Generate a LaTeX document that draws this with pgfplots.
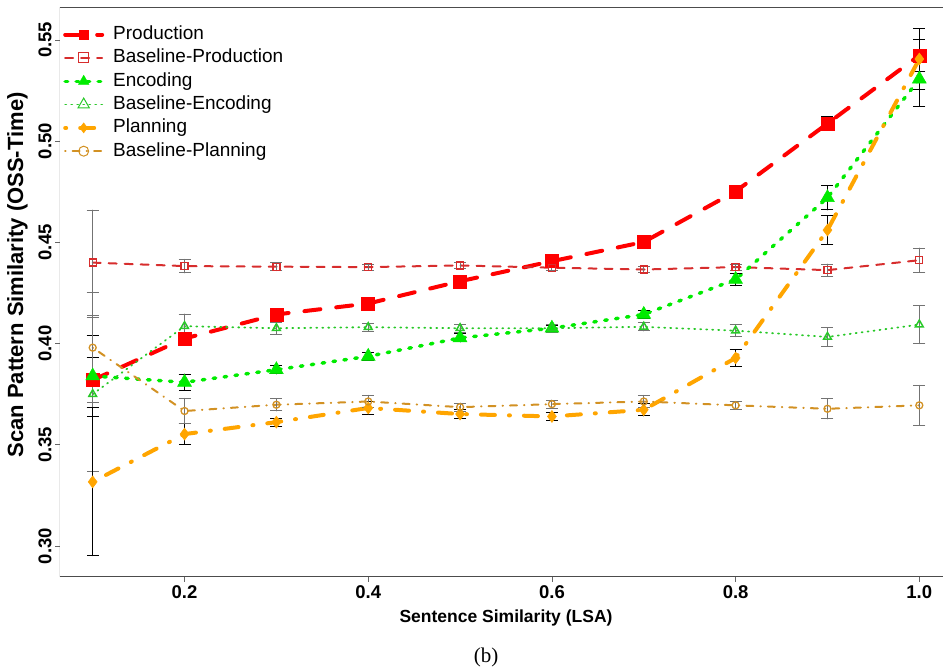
\documentclass[border=0pt]{standalone}
\usepackage{fontspec}
\setmainfont{Liberation Sans}
\newfontfamily\capfont{Liberation Serif}
\usepackage{pgfplots}
\pgfplotsset{compat=1.18}
\usepackage{pgfplotstable}

\definecolor{cprod}{RGB}{255,0,0}
\definecolor{cbprod}{RGB}{215,45,45}
\definecolor{cenc}{RGB}{0,235,0}
\definecolor{cbenc}{RGB}{40,200,40}
\definecolor{cplan}{RGB}{255,165,0}
\definecolor{cbplan}{RGB}{210,145,35}

\pgfplotstableread{
x y e
0.1 0.3820 0.011
0.2 0.4025 0.003
0.3 0.4144 0.002
0.4 0.4198 0.002
0.5 0.4308 0.002
0.6 0.4407 0.002
0.7 0.4502 0.002
0.8 0.4752 0.002
0.9 0.5087 0.0034
1.0 0.5424 0.008
}\tprod
\pgfplotstableread{
x y e
0.1 0.4400 0.026
0.2 0.4383 0.0033
0.3 0.4380 0.002
0.4 0.4378 0.0015
0.5 0.4386 0.0015
0.6 0.4375 0.0015
0.7 0.4366 0.0015
0.8 0.4378 0.0015
0.9 0.4363 0.003
1.0 0.4412 0.006
}\tbprod
\pgfplotstableread{
x y e
0.1 0.3840 0.020
0.2 0.3809 0.004
0.3 0.3871 0.002
0.4 0.3937 0.002
0.5 0.4028 0.002
0.6 0.4076 0.0015
0.7 0.4144 0.002
0.8 0.4317 0.003
0.9 0.4721 0.006
1.0 0.5307 0.0135
}\tenc
\pgfplotstableread{
x y e
0.1 0.3750 0.038
0.2 0.4086 0.006
0.3 0.4076 0.003
0.4 0.4081 0.002
0.5 0.4076 0.002
0.6 0.4076 0.002
0.7 0.4083 0.002
0.8 0.4064 0.003
0.9 0.4033 0.0045
1.0 0.4094 0.0094
}\tbenc
\pgfplotstableread{
x y e
0.1 0.3317 0.0365
0.2 0.3553 0.005
0.3 0.3612 0.002
0.4 0.3682 0.003
0.5 0.3652 0.002
0.6 0.3640 0.002
0.7 0.3673 0.003
0.8 0.3929 0.004
0.9 0.4561 0.007
1.0 0.5406 0.015
}\tplan
\pgfplotstableread{
x y e
0.1 0.3980 0.027
0.2 0.3667 0.0062
0.3 0.3698 0.003
0.4 0.3714 0.003
0.5 0.3686 0.002
0.6 0.3701 0.002
0.7 0.3714 0.003
0.8 0.3695 0.002
0.9 0.3678 0.005
1.0 0.3695 0.0099
}\tbplan

\begin{document}
\begin{tikzpicture}
\path[use as bounding box] (-60pt,-94pt) rectangle (883pt,577pt);
\begin{axis}[
  at={(0pt,0pt)}, anchor=south west,
  width=883pt, height=569pt, scale only axis,
  xmin=0.0644, xmax=1.0258, ymin=0.2847, ymax=0.5658,
  axis line style={draw=none},
  tick align=outside, tick pos=left,
  major tick length=5pt,
  tick style={black!60, line width=0.8pt},
  xtick={0.2,0.4,0.6,0.8,1.0},
  ytick={0.30,0.35,0.40,0.45,0.50,0.55},
  /pgf/number format/assume math mode=true,
  xticklabel style={font=\bfseries\fontsize{18.5}{18.5}\selectfont, /pgf/number format/.cd, fixed, fixed zerofill, precision=1},
  yticklabel style={font=\bfseries\fontsize{18.5}{18.5}\selectfont, rotate=90, anchor=south, /pgf/number format/.cd, fixed, fixed zerofill, precision=2},
  scaled ticks=false,
  xlabel={Sentence Similarity (LSA)},
  ylabel={Scan Pattern Similarity (OSS-Time)},
  every axis x label/.style={at={(axis description cs:0.5051,-0.0721)}, anchor=center, font=\bfseries\fontsize{17.5}{17.5}\selectfont},
  every axis y label/.style={at={(axis description cs:-0.0481,0.5308)}, rotate=90, anchor=center, font=\bfseries\fontsize{22}{22}\selectfont},
  legend image code/.code={\draw[mark repeat=2, mark phase=2, #1] plot coordinates {(0pt,0pt) (18.5pt,0pt) (37pt,0pt)};},
  legend cell align=left,
  legend style={draw=none, fill=none, inner sep=0pt, at={(axis description cs:0,1)}, xshift=3pt, yshift=-17.5pt, anchor=north west,
    font=\fontsize{19}{19}\selectfont, column sep=9pt, row sep=5.3pt,
    nodes={inner sep=0pt, text height=14pt, text depth=4pt}},
]
\draw[black!70, line width=1pt] (rel axis cs:1,1) -- (rel axis cs:0,1) -- (rel axis cs:0,0) -- (rel axis cs:1,0);

\addplot[color=cprod, line width=4pt, line cap=round, dash pattern=on 16pt off 16pt,
  mark=square*, mark size=6.5pt, mark options={solid, line width=0.5pt, fill=cprod},
  legend image post style={mark size=4.5pt},
  error bars/.cd, y dir=both, y explicit,
  error bar style={solid, line width=1pt, black},
  error mark options={solid, rotate=90, black, line width=1pt, mark size=6pt}]
  table[x=x, y=y, y error=e]{\tprod};
\addlegendentry{Production}

\addplot[color=cbprod, line width=2pt, line cap=round, dash pattern=on 8pt off 8pt,
  mark=square, mark size=3.5pt, mark options={solid, line width=1.3pt},
  legend image post style={mark size=5pt, mark options={solid, line width=1pt}},
  error bars/.cd, y dir=both, y explicit,
  error bar style={solid, line width=1pt, black!55},
  error mark options={solid, rotate=90, black!55, line width=1pt, mark size=6pt}]
  table[x=x, y=y, y error=e]{\tbprod};
\addlegendentry{Baseline-Production}

\addplot[color=cenc, line width=3.5pt, line cap=round, dash pattern=on 2.5pt off 8.5pt,
  mark=triangle*, mark size=8pt, mark options={solid, line width=0.5pt, fill=cenc},
  legend image post style={mark size=6pt},
  error bars/.cd, y dir=both, y explicit,
  error bar style={solid, line width=1pt, black},
  error mark options={solid, rotate=90, black, line width=1pt, mark size=6pt}]
  table[x=x, y=y, y error=e]{\tenc};
\addlegendentry{Encoding}

\addplot[color=cbenc, line width=1.8pt, line cap=round, dash pattern=on 1pt off 5pt,
  mark=triangle, mark size=4.5pt, mark options={solid, line width=1.5pt},
  legend image post style={mark size=6.5pt, mark options={solid, line width=1pt}},
  error bars/.cd, y dir=both, y explicit,
  error bar style={solid, line width=1pt, black!55},
  error mark options={solid, rotate=90, black!55, line width=1pt, mark size=6pt}]
  table[x=x, y=y, y error=e]{\tbenc};
\addlegendentry{Baseline-Encoding}

\addplot[color=cplan, line width=4pt, line cap=round, dash pattern=on 1pt off 14pt on 14pt off 14pt,
  mark=diamond*, mark size=6pt, mark options={solid, line width=0.5pt, fill=cplan},
  legend image post style={mark size=5pt},
  error bars/.cd, y dir=both, y explicit,
  error bar style={solid, line width=1pt, black},
  error mark options={solid, rotate=90, black, line width=1pt, mark size=6pt}]
  table[x=x, y=y, y error=e]{\tplan};
\addlegendentry{Planning}

\addplot[color=cbplan, line width=2pt, line cap=round, dash pattern=on 0.5pt off 7pt on 7pt off 7pt,
  mark=o, mark size=3.5pt, mark options={solid, line width=1.3pt},
  legend image post style={mark size=5pt, mark options={solid, line width=1pt}},
  error bars/.cd, y dir=both, y explicit,
  error bar style={solid, line width=1pt, black!55},
  error mark options={solid, rotate=90, black!55, line width=1pt, mark size=6pt}]
  table[x=x, y=y, y error=e]{\tbplan};
\addlegendentry{Baseline-Planning}
\end{axis}
\node[font=\capfont\fontsize{21}{21}\selectfont, anchor=center] at (426pt,-80pt) {(b)};
\end{tikzpicture}
\end{document}
